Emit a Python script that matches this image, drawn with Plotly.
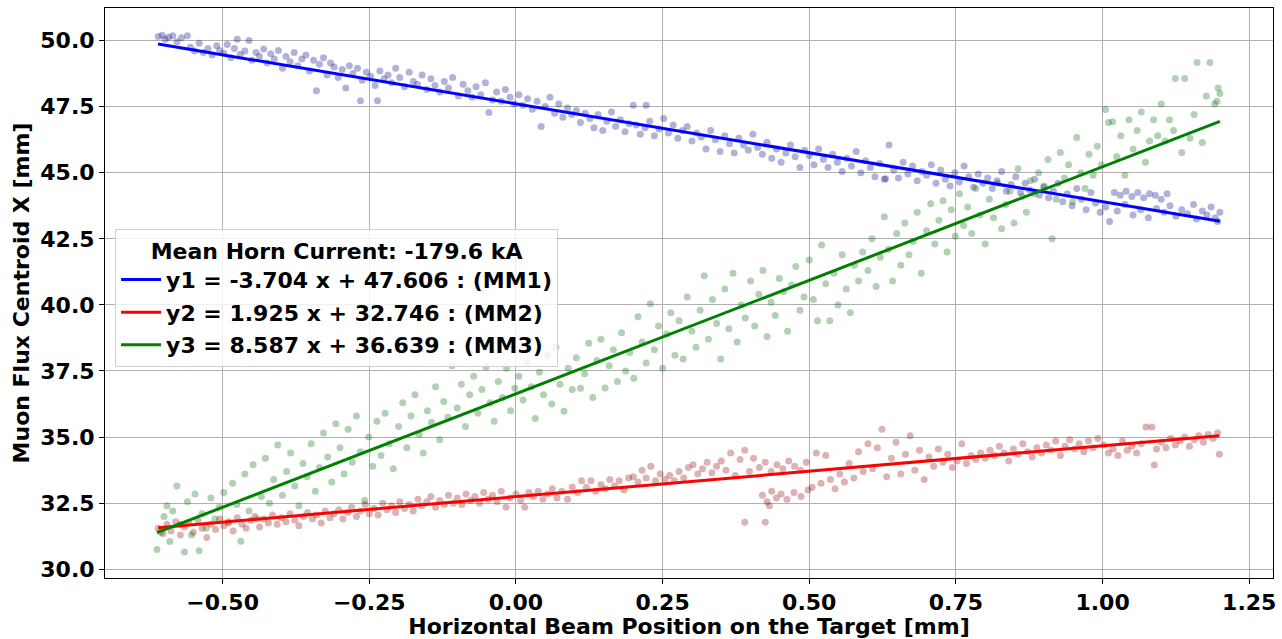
import plotly.graph_objects as go

# ---------------- data ----------------
mm1_x = [-0.610, -0.603, -0.598, -0.592, -0.585, -0.578, -0.570, -0.560, -0.555, -0.548, -0.540, -0.533, -0.525, -0.518, -0.510, -0.505,
         -0.498, -0.492, -0.486, -0.480, -0.475, -0.470, -0.462, -0.455, -0.450, -0.443, -0.437, -0.430, -0.424, -0.418, -0.412, -0.405,
         -0.398, -0.392, -0.385, -0.378, -0.372, -0.365, -0.358, -0.352, -0.345, -0.340, -0.335, -0.328, -0.322, -0.316, -0.310, -0.303,
         -0.296, -0.290, -0.284, -0.278, -0.270, -0.262, -0.255, -0.248, -0.240, -0.232, -0.225, -0.218, -0.212, -0.205, -0.265, -0.236,
         -0.198, -0.190, -0.182, -0.175, -0.168, -0.160, -0.152, -0.145, -0.138, -0.130, -0.122, -0.115, -0.108,
         -0.098, -0.090, -0.082, -0.075, -0.068, -0.060, -0.052, -0.046, -0.040, -0.033, -0.025, -0.018, -0.010, -0.003,
         0.005, 0.012, 0.020, 0.028, 0.036, 0.043, 0.050, 0.058, 0.066, 0.073, 0.080, 0.088, 0.095,
         0.103, 0.110, 0.118, 0.126, 0.133, 0.140, 0.148, 0.155, 0.163, 0.170, 0.178, 0.186, 0.193, 0.200, 0.222,
         0.205, 0.212, 0.220, 0.228, 0.236, 0.244, 0.252, 0.260, 0.268, 0.276, 0.284, 0.292,
         0.300, 0.308, 0.316, 0.324, 0.332, 0.340, 0.348, 0.356, 0.364, 0.372, 0.380, 0.388, 0.396,
         0.404, 0.412, 0.420, 0.428, 0.436, 0.444, 0.452, 0.460, 0.468, 0.476, 0.484, 0.492,
         0.500, 0.508, 0.516, 0.524, 0.532, 0.540, 0.548, 0.556, 0.564, 0.572, 0.580, 0.588, 0.596,
         0.604, 0.612, 0.620, 0.628, 0.636, 0.644, 0.652, 0.660, 0.668, 0.676, 0.684, 0.692, 0.630,
         0.700, 0.708, 0.716, 0.724, 0.732, 0.740, 0.748, 0.756, 0.764, 0.772, 0.780, 0.788, 0.796,
         0.804, 0.812, 0.820, 0.828, 0.836, 0.844, 0.852, 0.860, 0.868, 0.876, 0.884, 0.892,
         0.900, 0.908, 0.916, 0.924, 0.932, 0.940, 0.948, 0.956, 0.964, 0.972, 0.980, 0.988, 0.996,
         1.020, 1.030, 1.040, 1.050, 1.060, 1.070, 1.080, 1.090, 1.100, 1.110,
         1.005, 1.012, 1.025, 1.038, 1.052, 1.065, 1.078, 1.092,
         1.105, 1.115, 1.125, 1.135, 1.145, 1.155, 1.160, 1.170, 1.178, 1.185, 1.192, 1.200, 1.196]
mm1_y = [50.15, 50.20, 50.05, 50.12, 50.18, 49.95, 50.10, 50.18, 49.75, 49.60, 49.90, 49.55, 49.70, 49.45, 49.80, 49.62,
         49.52, 49.85, 49.35, 49.70, 50.05, 49.48, 49.60, 50.00, 49.25, 49.55, 49.40, 49.68, 49.15, 49.50, 49.30, 49.62,
         48.95, 49.40, 49.20, 49.55, 49.05, 49.30, 49.45, 48.85, 49.25, 48.10, 49.10, 49.35, 48.70, 49.15, 49.00, 48.60,
         48.90, 48.20, 49.05, 48.75, 48.95, 48.50, 48.80, 48.65, 48.30, 48.85, 48.55, 48.70, 48.40, 48.95, 47.72, 47.72,
         48.60, 48.25, 48.80, 48.45, 48.35, 48.70, 48.15, 48.55, 48.30, 48.05, 48.45, 48.20, 48.60,
         47.90, 48.35, 48.10, 47.85, 48.25, 47.95, 48.40, 47.28, 47.75, 48.05, 47.70, 48.15, 47.85, 47.60,
         47.95, 47.55, 47.80, 47.40, 47.70, 46.75, 47.50, 47.85, 47.25, 47.60, 47.10, 47.45, 47.20,
         47.35, 46.90, 47.25, 47.05, 46.70, 47.20, 46.60, 46.95, 47.30, 46.75, 47.00, 46.55, 46.85, 47.55, 47.55,
         46.80, 46.45, 46.70, 46.95, 46.40, 46.65, 47.05, 46.50, 46.80, 46.30, 46.60, 46.75,
         46.20, 46.50, 46.35, 45.90, 46.60, 46.25, 45.80, 46.40, 46.10, 45.75, 46.30, 46.05, 45.85,
         46.45, 45.95, 45.70, 46.15, 45.55, 45.90, 45.40, 45.75, 46.05, 45.60, 45.20, 45.85,
         45.65, 45.30, 45.90, 45.50, 45.20, 45.70, 45.40, 45.05, 45.55, 45.25, 45.80, 45.00, 45.45,
         45.20, 44.85, 45.35, 44.75, 46.05, 45.10, 44.80, 45.40, 44.95, 45.25, 44.70, 45.05, 44.77,
         44.90, 45.30, 44.60, 45.10, 44.75, 44.50, 45.00, 44.65, 45.25, 44.85, 44.45, 44.95, 44.60,
         44.80, 44.40, 44.70, 45.05, 44.30, 44.55, 44.85, 44.25, 44.60, 44.35, 44.75, 44.15,
         44.45, 44.05, 44.30, 44.60, 43.90, 44.20, 43.75, 44.40, 44.00, 43.60, 44.25, 43.85, 43.50,
         44.25, 44.15, 44.30, 44.10, 44.25, 44.05, 44.20, 44.15, 44.00, 44.20,
         43.70, 43.15, 43.55, 43.80, 43.40, 43.60, 43.30, 43.65,
         43.50, 43.75, 43.35, 43.60, 43.45, 43.80, 43.25, 43.55, 43.40, 43.70, 43.30, 43.50, 43.15]

mm2_x = [-0.610, -0.602, -0.595, -0.588, -0.580, -0.572, -0.565, -0.558, -0.550, -0.542, -0.535, -0.527, -0.520, -0.512, -0.505,
         -0.498, -0.490, -0.482, -0.475, -0.467, -0.460, -0.452, -0.445, -0.437, -0.430, -0.422, -0.415, -0.407,
         -0.400, -0.392, -0.385, -0.377, -0.370, -0.362, -0.355, -0.347, -0.340, -0.332, -0.325, -0.317, -0.310,
         -0.302, -0.295, -0.287, -0.280, -0.272, -0.265, -0.257, -0.250, -0.242, -0.235, -0.227, -0.220, -0.212, -0.205,
         -0.198, -0.190, -0.182, -0.175, -0.167, -0.160, -0.152, -0.145, -0.137, -0.130, -0.122, -0.115, -0.107,
         -0.100, -0.092, -0.085, -0.077, -0.070, -0.062, -0.055, -0.047, -0.040, -0.032, -0.025, -0.017, -0.010,
         0.000, 0.008, 0.015, 0.022, 0.030, 0.038, 0.046, 0.054, 0.062, 0.070, 0.078, 0.088, 0.096,
         0.105, 0.112, 0.120, 0.128, 0.136, 0.145, 0.153, 0.160, 0.168, 0.176, 0.184, 0.192,
         0.200, 0.208, 0.215, 0.222, 0.230, 0.238, 0.246, 0.254, 0.262, 0.270, 0.278, 0.286, 0.294,
         0.302, 0.310, 0.318, 0.326, 0.334, 0.342, 0.350, 0.358, 0.366, 0.374, 0.382, 0.390, 0.398,
         0.405, 0.415, 0.425, 0.435, 0.445, 0.455, 0.465, 0.475, 0.485, 0.495,
         0.420, 0.428, 0.436, 0.444, 0.452, 0.462, 0.474, 0.486, 0.498, 0.390, 0.425, 0.432,
         0.505, 0.512, 0.520, 0.528, 0.536, 0.544, 0.552, 0.560, 0.568, 0.576, 0.584, 0.592,
         0.600, 0.608, 0.616, 0.624, 0.632, 0.640, 0.648, 0.656, 0.664, 0.672, 0.680, 0.688, 0.696,
         0.704, 0.712, 0.720, 0.728, 0.736, 0.744, 0.752, 0.760, 0.768, 0.776, 0.784, 0.792,
         0.800, 0.808, 0.816, 0.824, 0.832, 0.840, 0.848, 0.856, 0.864, 0.872, 0.880, 0.888, 0.896,
         0.904, 0.912, 0.920, 0.928, 0.936, 0.944, 0.952, 0.960, 0.968, 0.976, 0.984, 0.992,
         1.002, 1.010, 1.018, 1.026, 1.034, 1.042, 1.050, 1.058, 1.066, 1.074, 1.084, 1.092, 1.088,
         1.100, 1.108, 1.116, 1.124, 1.132, 1.140, 1.148, 1.156, 1.164, 1.172, 1.180, 1.188, 1.196, 1.199]
mm2_y = [31.55, 31.35, 31.70, 31.45, 31.80, 31.30, 31.60, 31.75, 31.40, 31.85, 31.55, 31.20, 31.70, 31.50, 31.90,
         31.65, 31.80, 31.45, 31.95, 31.70, 31.55, 31.85, 32.00, 31.60, 31.90, 31.75, 32.05, 31.70,
         31.95, 31.80, 32.10, 31.85, 31.65, 32.00, 32.15, 31.90, 32.05, 31.75, 32.20, 31.95, 32.10,
         32.25, 31.90, 32.15, 32.35, 32.00, 32.20, 32.45, 32.10, 32.30, 32.05, 32.50, 32.25, 32.40, 32.15,
         32.55, 32.30, 32.45, 32.20, 32.65, 32.40, 32.55, 32.75, 32.35, 32.60, 32.45, 32.80, 32.50,
         32.70, 32.45, 32.85, 32.60, 32.75, 32.50, 32.90, 32.65, 32.80, 32.55, 32.95, 32.35, 32.70,
         32.85, 32.60, 32.35, 32.90, 32.75, 32.95, 32.65, 32.85, 33.05, 32.70, 32.95, 32.65, 33.10,
         32.90, 33.35, 33.10, 33.35, 32.95, 33.20, 33.05, 33.40, 33.15, 33.35, 33.00, 33.45,
         33.50, 33.30, 33.75, 33.45, 33.90, 33.35, 33.60, 33.40, 33.55, 33.35, 33.70, 33.45, 33.85,
         33.95, 33.60, 33.80, 34.05, 33.65, 33.90, 34.10, 33.75, 34.40, 33.55, 34.15, 34.50, 33.70,
         34.20, 33.85, 34.05, 33.70, 33.95, 33.80, 34.10, 33.90, 33.75, 34.05,
         32.80, 32.55, 32.95, 32.70, 32.85, 32.65, 32.90, 32.75, 33.00, 31.78, 31.78, 32.40,
         33.10, 34.40, 33.25, 34.30, 33.40, 33.05, 33.60, 33.30, 34.00, 33.45, 34.45, 33.70,
         34.75, 33.80, 34.60, 35.30, 33.50, 34.20, 34.80, 33.60, 34.35, 35.05, 33.75, 34.50, 33.40,
         34.25, 33.90, 34.55, 34.05, 34.35, 33.85, 34.10, 34.75, 34.00, 34.30, 34.15, 34.40,
         34.20, 34.50, 34.30, 34.65, 34.40, 34.10, 34.55, 34.35, 34.75, 34.45, 34.25, 34.60, 34.40,
         34.70, 34.50, 34.85, 34.30, 34.65, 34.90, 34.55, 34.75, 34.45, 34.85, 34.60, 34.95,
         34.70, 34.40, 34.55, 34.30, 34.85, 34.50, 34.65, 34.40, 34.75, 35.38, 35.38, 34.55, 33.94,
         34.80, 34.60, 34.95, 34.70, 34.85, 35.00, 34.65, 34.90, 35.05, 34.80, 35.10, 34.95, 35.15, 34.35]

mm3_x = [-0.612, -0.605, -0.600, -0.595, -0.590, -0.585, -0.578, -0.572, -0.565, -0.560, -0.553, -0.547, -0.540, -0.535, -0.528, -0.520, -0.513, -0.506,
         -0.498, -0.490, -0.483, -0.476, -0.469, -0.462, -0.455, -0.448, -0.441, -0.434, -0.427, -0.420, -0.413, -0.406,
         -0.398, -0.391, -0.384, -0.377, -0.370, -0.363, -0.356, -0.349, -0.342, -0.335, -0.328, -0.321, -0.314, -0.307,
         -0.300, -0.293, -0.286, -0.279, -0.272, -0.265, -0.258, -0.251, -0.244, -0.237, -0.230, -0.223, -0.216, -0.209,
         -0.200, -0.193, -0.186, -0.179, -0.172, -0.165, -0.158, -0.151, -0.144, -0.137, -0.130, -0.123, -0.116, -0.109,
         -0.100, -0.093, -0.086, -0.079, -0.072, -0.065, -0.058, -0.051, -0.044, -0.037, -0.030, -0.023, -0.016, -0.009, -0.002,
         0.005, 0.012, 0.019, 0.026, 0.033, 0.040, 0.047, 0.054, 0.061, 0.068, 0.075, 0.082, 0.089, 0.096,
         0.103, 0.110, 0.117, 0.124, 0.131, 0.138, 0.145, 0.152, 0.159, 0.166, 0.173, 0.180, 0.187, 0.194,
         0.201, 0.208, 0.215, 0.222, 0.229, 0.236, 0.243, 0.250, 0.257, 0.264, 0.271, 0.278, 0.285, 0.292,
         0.300, 0.307, 0.314, 0.321, 0.328, 0.335, 0.342, 0.349, 0.356, 0.363, 0.370, 0.377, 0.384, 0.391,
         0.400, 0.407, 0.414, 0.421, 0.428, 0.435, 0.442, 0.449, 0.456, 0.463, 0.470, 0.477, 0.484, 0.491,
         0.500, 0.507, 0.514, 0.521, 0.528, 0.535, 0.542, 0.549, 0.556, 0.563, 0.570, 0.577, 0.584, 0.591,
         0.600, 0.607, 0.614, 0.621, 0.628, 0.635, 0.642, 0.649, 0.656, 0.663, 0.670, 0.677, 0.684, 0.691,
         0.700, 0.707, 0.714, 0.721, 0.728, 0.735, 0.742, 0.749, 0.756, 0.763, 0.770, 0.777, 0.784, 0.791,
         0.800, 0.807, 0.814, 0.821, 0.828, 0.835, 0.842, 0.849, 0.856, 0.863, 0.870, 0.877, 0.884, 0.891,
         0.900, 0.907, 0.914, 0.921, 0.928, 0.935, 0.942, 0.949, 0.956, 0.963, 0.970, 0.977, 0.984, 0.991, 0.998,
         1.005, 1.010, 1.017, 1.024, 1.031, 1.038, 1.045, 1.052, 1.059, 1.066, 1.073, 1.080, 1.087, 1.094,
         1.100, 1.107, 1.114, 1.121, 1.124, 1.135, 1.140, 1.149, 1.156, 1.161, 1.170, 1.177, 1.183, 1.191, 1.197, 1.200, 1.195]
mm3_y = [30.75, 31.40, 32.00, 32.40, 31.05, 32.20, 33.15, 31.70, 30.65, 32.55, 31.30, 32.85, 30.70, 32.10, 31.55, 32.70, 31.90, 32.35,
         32.90, 31.75, 33.25, 32.45, 31.06, 33.60, 32.20, 33.95, 31.90, 32.75, 34.20, 32.50, 33.40, 34.70,
         32.80, 33.70, 34.40, 33.15, 32.40, 34.00, 33.50, 34.75, 32.95, 33.85, 35.15, 34.25, 33.30, 35.50,
         34.60, 33.60, 35.30, 34.05, 35.80, 34.45, 32.60, 35.00, 33.90, 35.60, 34.30, 35.90, 34.75, 33.80,
         35.40, 36.30, 34.60, 35.80, 36.60, 35.10, 34.40, 36.00, 35.55, 36.90, 34.90, 36.35, 35.75, 37.70,
         36.10, 37.00, 35.40, 36.60, 37.30, 35.90, 36.80, 37.65, 36.30, 35.60, 37.10, 36.50, 37.60, 36.00, 36.85,
         37.30, 36.40, 37.80, 36.90, 35.70, 37.45, 36.60, 38.10, 36.25, 38.40, 37.00, 35.98, 37.60, 36.80,
         38.00, 36.85, 37.40, 38.55, 36.50, 37.90, 38.70, 36.86, 37.70, 38.30, 37.10, 38.95, 37.50, 38.20,
         37.23, 39.55, 38.60, 37.80, 40.04, 38.30, 39.20, 37.60, 38.90, 39.70, 38.10, 39.40, 37.95, 40.30,
         39.00, 38.40, 39.80, 41.10, 38.70, 40.20, 39.30, 37.95, 40.60, 39.10, 41.20, 38.60, 40.00, 39.50,
         40.90, 39.20, 40.40, 41.30, 38.80, 40.10, 39.60, 41.00, 40.50, 39.00, 40.75, 41.45, 39.80, 40.30,
         41.70, 40.20, 39.40, 42.27, 40.80, 39.40, 41.20, 40.00, 41.90, 40.60, 39.70, 41.50, 40.90, 42.00,
         41.30, 42.50, 40.70, 41.80, 43.33, 42.10, 40.90, 42.70, 41.50, 43.10, 41.90, 42.40, 43.50, 41.20,
         42.80, 43.83, 42.30, 43.20, 43.94, 42.00, 43.60, 42.60, 44.20, 43.00, 43.70, 42.70, 44.40, 43.40,
         42.30, 44.00, 43.30, 44.60, 42.88, 43.80, 44.30, 43.10, 45.15, 44.10, 43.50, 44.70, 44.20, 45.00,
         44.50, 45.50, 42.50, 44.00, 45.76, 44.80, 45.30, 43.90, 46.33, 45.00, 44.40, 45.70, 44.90, 46.00, 45.30,
         47.39, 46.90, 46.93, 45.60, 46.40, 44.90, 47.00, 45.90, 46.60, 47.30, 45.40, 46.20, 47.00, 46.40,
         47.60, 46.20, 47.00, 46.60, 48.56, 45.76, 48.56, 46.30, 47.20, 49.17, 46.14, 47.90, 49.17, 47.60, 48.20, 48.00, 47.70]

series_names = ["MM1", "MM2", "MM3"]
fit_slopes = [-3.704, 1.925, 8.587]
fit_intercepts = [47.606, 32.746, 36.639]
point_colors = ["#000080", "#8b0000", "#006400"]
line_colors = ["#0000ff", "#ff0000", "#008000"]
legend_title = "Mean Horn Current: -179.6 kA"
x_label = "Horizontal Beam Position on the Target [mm]"
y_label = "Muon Flux Centroid X [mm]"

FONT = "DejaVu Sans"
FS = 22

fig = go.Figure()
xs_all = [mm1_x, mm2_x, mm3_x]
ys_all = [mm1_y, mm2_y, mm3_y]

for xs, ys, c in zip(xs_all, ys_all, point_colors):
    fig.add_trace(go.Scatter(
        x=xs, y=ys, mode="markers",
        marker=dict(color=c, size=7, opacity=0.3, line=dict(width=0)),
        showlegend=False, hoverinfo="skip"))

for i, (xs, m, b, c, nm) in enumerate(zip(xs_all, fit_slopes, fit_intercepts, line_colors, series_names)):
    x0, x1 = min(xs), max(xs)
    fig.add_trace(go.Scatter(
        x=[x0, x1], y=[m * x0 + b, m * x1 + b], mode="lines",
        line=dict(color=c, width=3),
        name=f"y{i+1} = {m:.3f} x + {b:.3f} : ({nm})",
        legendgroup=nm))

axis_common = dict(
    showline=True, mirror=True, linecolor="black", linewidth=1,
    ticks="outside", ticklen=5, tickwidth=1, tickcolor="black",
    showgrid=True, gridcolor="#b0b0b0", gridwidth=1, zeroline=False,
    automargin=False,
    tickfont=dict(family=FONT, size=FS, color="black", weight="bold"),
)

fig.update_layout(
    width=1282, height=639,
    margin=dict(l=105, r=9, t=8, b=61),
    paper_bgcolor="white", plot_bgcolor="white",
    font=dict(family=FONT, color="black"),
    xaxis=dict(range=[-0.7005, 1.2905], tick0=0, dtick=0.25, tickformat=".2f",
               title=dict(text=x_label, font=dict(family=FONT, size=FS, weight="bold"), standoff=0),
               **axis_common),
    yaxis=dict(range=[29.67, 51.23], tick0=30, dtick=2.5, tickformat=".1f",
               title=dict(text=y_label, font=dict(family=FONT, size=FS, weight="bold"), standoff=4),
               **axis_common),
    legend=dict(
        x=0.0086, y=0.612, xanchor="left", yanchor="top",
        bgcolor="rgba(255,255,255,0.8)", bordercolor="#d0d0d0", borderwidth=1,
        font=dict(family=FONT, size=FS, color="black", weight="bold"),
        title=dict(text=legend_title, side="top center",
                   font=dict(family=FONT, size=FS, color="black", weight="bold")),
        traceorder="grouped", tracegroupgap=1, itemwidth=40,
    ),
    showlegend=True,
)

fig.write_html("out.html")
